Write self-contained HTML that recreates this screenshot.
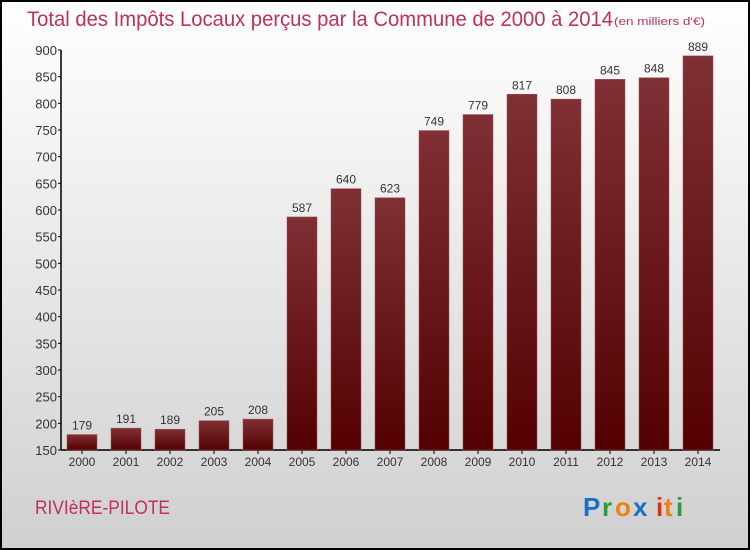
<!DOCTYPE html>
<html><head><meta charset="utf-8"><style>
body{margin:0;width:750px;height:550px;overflow:hidden}
svg{display:block;font-family:"Liberation Sans",sans-serif}
</style></head><body>
<svg id="chart" width="750" height="550">
<defs>
<linearGradient id="bg" x1="0" y1="0" x2="0" y2="1"><stop offset="0" stop-color="#ffffff"/><stop offset="1" stop-color="#d0d0d0"/></linearGradient>
<linearGradient id="bar" x1="0" y1="0" x2="0" y2="1"><stop offset="0" stop-color="#7f3034"/><stop offset="1" stop-color="#540000"/></linearGradient>
</defs>
<rect x="1" y="1" width="748" height="548" fill="url(#bg)" stroke="#000" stroke-width="2"/>
<text x="27" y="26" font-size="21" fill="#c0305a" textLength="586" lengthAdjust="spacingAndGlyphs">Total des Impôts Locaux perçus par la Commune de 2000 à 2014</text>
<text x="614" y="25" font-size="11" fill="#c0305a" textLength="91" lengthAdjust="spacingAndGlyphs">(en milliers d'€)</text>
<g id="axes"></g>
<g id="bars"></g>
<text x="35" y="514" font-size="19" fill="#c0305a" textLength="135" lengthAdjust="spacingAndGlyphs">RIVIèRE-PILOTE</text>
<g font-size="26" font-weight="bold">
<text x="583" y="516" fill="#1a6fc8">P</text><text x="602" y="516" fill="#2a9a3a">r</text><text x="615" y="516" fill="#f08010">o</text><text x="633" y="516" fill="#1a6fc8">x</text><text x="656" y="516" fill="#e03010">i</text><text x="664" y="516" fill="#f08010">t</text><text x="676" y="516" fill="#2a9a3a">i</text>
</g>
</svg>
<script>
const years=["2000","2001","2002","2003","2004","2005","2006","2007","2008","2009","2010","2011","2012","2013","2014"];
const values=[179,191,189,205,208,587,640,623,749,779,817,808,845,848,889];
const ticks=[150,200,250,300,350,400,450,500,550,600,650,700,750,800,850,900];
const NS="http://www.w3.org/2000/svg";
const y=v=>450-(v-150)*400/750;
const x=i=>82+i*44;
function mk(t,a,p){const e=document.createElementNS(NS,t);for(const k in a)e.setAttribute(k,a[k]);p.appendChild(e);return e;}
const ax=document.getElementById('axes'),bg=document.getElementById('bars');
const yl=mk('line',{x1:61,y1:50,x2:61,y2:450,stroke:'#000','stroke-width':1.5},ax);


const xl=mk('line',{x1:61,y1:450,x2:720,y2:450,stroke:'#000','stroke-width':1.5},ax);


ticks.forEach(t=>{
 mk('line',{x1:58,y1:y(t),x2:61,y2:y(t),stroke:'#000'},ax);
 const tx=mk('text',{x:57,y:y(t)+5,'text-anchor':'end','font-size':13,fill:'#333'},ax);
 tx.textContent=t;
 
 
});
values.forEach((v,i)=>{
 const r=mk('rect',{x:x(i)-15,y:y(v),width:30,height:450-y(v),fill:'url(#bar)',stroke:'#a05055','stroke-width':0.5},bg);
 
 
 const l=mk('text',{x:x(i),y:y(v)-5,'text-anchor':'middle','font-size':12,fill:'#333'},bg);
 l.textContent=v;
 
 
 mk('line',{x1:x(i),y1:450,x2:x(i),y2:454,stroke:'#000'},ax);
 const yt=mk('text',{x:x(i),y:466,'text-anchor':'middle','font-size':12,fill:'#333'},ax);
 yt.textContent=years[i];
 
 
});
</script>
</body></html>
